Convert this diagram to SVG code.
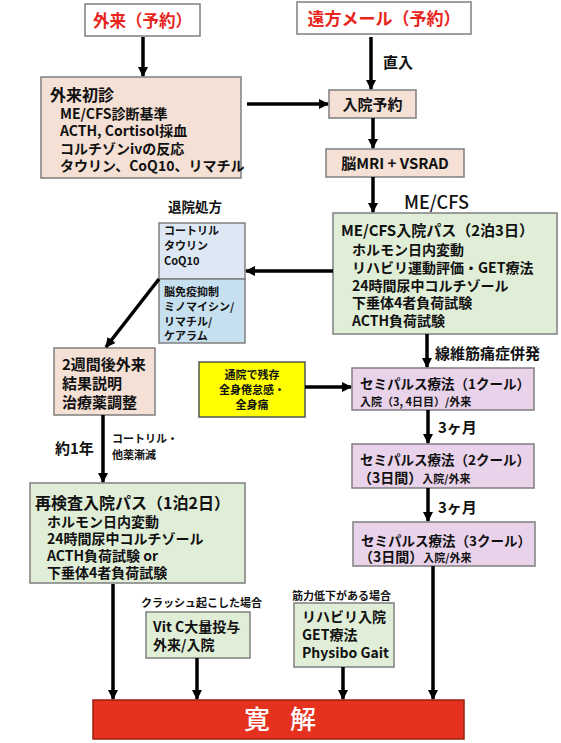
<svg xmlns="http://www.w3.org/2000/svg" width="561" height="743" viewBox="0 0 561 743">
<defs>
<marker id="ah" viewBox="0 0 10 10" refX="9" refY="5" markerWidth="10" markerHeight="10" markerUnits="userSpaceOnUse" orient="auto">
<path d="M0,0 L10,5 L0,10 z" fill="#000"/>
</marker>
</defs>
<style>
text{font-family:"Noto Sans CJK JP","Noto Sans",sans-serif;fill:#111;font-weight:bold}
.b{stroke:#7f7f7f;stroke-width:1.5}
.peach{fill:#f4e0d4}
.green{fill:#e0eed7}
.purple{fill:#e9d3eb}
.blue1{fill:#dde8f4}
.blue2{fill:#c6e0f0}
.white{fill:#fff}
.red{fill:#e8241c;font-weight:bold}
.c line{stroke:#000;stroke-width:3.5;fill:none;marker-end:url(#ah)}
.s11{font-size:11px}
.s135{font-size:13.5px}
.s14{font-size:14px}
.s15{font-size:15px}
.s16{font-size:16px}
.mid{text-anchor:middle}
</style>
<rect width="561" height="743" fill="#fff"/>

<g id="gairai-yoyaku">
<rect class="b white" x="85" y="4" width="115" height="32"/>
<text class="red mid" x="142.5" y="27" font-size="16.5">外来（予約）</text>
</g>

<g id="enpou-mail">
<rect class="b white" x="297" y="2" width="174" height="32"/>
<text class="red mid" x="384" y="25" font-size="17">遠方メール（予約）</text>
</g>

<g id="gairai-shoshin">
<rect class="b peach" x="41" y="77" width="200" height="101"/>
<text class="s14"><tspan class="s16" x="50" y="101">外来初診</tspan><tspan x="60" y="119">ME/CFS診断基準</tspan><tspan x="60" y="136">ACTH, Cortisol採血</tspan><tspan x="60" y="154">コルチゾンivの反応</tspan><tspan x="60" y="171">タウリン、CoQ10、リマチル</tspan></text>
</g>

<g id="nyuin-yoyaku">
<rect class="b peach" x="329" y="90" width="87" height="28"/>
<text class="s15 mid" x="372.5" y="110">入院予約</text>
</g>

<g id="mri">
<rect class="b peach" x="326" y="149" width="138" height="28"/>
<text class="s15 mid" x="395" y="169">脳MRI + VSRAD</text>
</g>

<g id="mecfs-path">
<rect class="b green" x="333" y="213" width="224" height="121"/>
<text class="s14"><tspan class="s15" x="341" y="236">ME/CFS入院パス（2泊3日）</tspan><tspan x="352" y="255">ホルモン日内変動</tspan><tspan x="352" y="273">リハビリ運動評価・GET療法</tspan><tspan x="352" y="291">24時間尿中コルチゾール</tspan><tspan x="352" y="308">下垂体4者負荷試験</tspan><tspan x="352" y="326">ACTH負荷試験</tspan></text>
</g>

<g id="taiin-shoho">
<text class="s135 mid" x="195" y="212">退院処方</text>
<rect class="b blue1" x="159" y="223" width="86" height="56"/>
<text class="s11"><tspan x="164" y="235">コートリル</tspan><tspan x="164" y="250">タウリン</tspan><tspan x="164" y="265">CoQ10</tspan></text>
<rect class="b blue2" x="159" y="279" width="86" height="64"/>
<text class="s11"><tspan x="164" y="296">脳免疫抑制</tspan><tspan x="164" y="311">ミノマイシン/</tspan><tspan x="164" y="326">リマチル/</tspan><tspan x="164" y="340">ケアラム</tspan></text>
</g>

<g id="nishukan">
<rect class="b peach" x="54" y="348" width="101" height="67"/>
<text class="s15"><tspan x="62" y="370">2週間後外来</tspan><tspan x="62" y="389">結果説明</tspan><tspan x="62" y="408">治療薬調整</tspan></text>
</g>

<g id="tsuin">
<rect x="199" y="362" width="106" height="55" fill="#ffff00" stroke="#555" stroke-width="1.5"/>
<text class="s11 mid"><tspan x="252" y="379">通院で残存</tspan><tspan x="252" y="394">全身倦怠感・</tspan><tspan x="252" y="409">全身痛</tspan></text>
</g>

<g id="semi1">
<rect class="b purple" x="352" y="368" width="182" height="42"/>
<text class="s135"><tspan x="360" y="389">セミパルス療法（1クール）</tspan><tspan class="s11" x="360" y="406">入院（3, 4日目）/外来</tspan></text>
</g>

<g id="semi2">
<rect class="b purple" x="352" y="444" width="182" height="44"/>
<text class="s135"><tspan x="360" y="465">セミパルス療法（2クール）</tspan><tspan class="s14" x="358" y="483">（3日間）</tspan><tspan class="s11">入院/外来</tspan></text>
</g>

<g id="semi3">
<rect class="b purple" x="353" y="522" width="182" height="44"/>
<text class="s135"><tspan x="361" y="546">セミパルス療法（3クール）</tspan><tspan class="s14" x="359" y="562">（3日間）</tspan><tspan class="s11">入院/外来</tspan></text>
</g>

<g id="saikensa">
<rect class="b green" x="30" y="483" width="215" height="100"/>
<text class="s14"><tspan class="s16" x="35" y="509">再検査入院パス（1泊2日）</tspan><tspan x="47" y="527">ホルモン日内変動</tspan><tspan x="47" y="544">24時間尿中コルチゾール</tspan><tspan x="47" y="561">ACTH負荷試験 or</tspan><tspan x="47" y="578">下垂体4者負荷試験</tspan></text>
</g>

<g id="vitc">
<text class="s11" x="141" y="607">クラッシュ起こした場合</text>
<rect class="b green" x="146" y="612" width="104" height="46"/>
<text class="s14"><tspan x="153" y="632">Vit C大量投与</tspan><tspan x="153" y="650">外来/入院</tspan></text>
</g>

<g id="rehab">
<text class="s11" x="292" y="600">筋力低下がある場合</text>
<rect class="b green" x="294" y="603" width="100" height="64"/>
<text class="s14"><tspan x="302" y="622">リハビリ入院</tspan><tspan x="302" y="640">GET療法</tspan><tspan x="302" y="658">Physibo Gait</tspan></text>
</g>

<g id="kankai">
<rect x="93" y="700" width="371" height="39" fill="#e5321f" stroke="#9a2010" stroke-width="1.5"/>
<text class="mid" x="280" y="729" font-size="26" style="fill:#fff;font-weight:500" word-spacing="14">寛 解</text>
</g>

<g id="connectors" class="c">
<line x1="143" y1="37" x2="143" y2="76"/>
<line x1="371" y1="37" x2="371" y2="89"/>
<line x1="247" y1="104" x2="328" y2="104"/>
<line x1="373" y1="118" x2="373" y2="148"/>
<line x1="373" y1="177" x2="373" y2="212"/>
<line x1="333" y1="271" x2="246" y2="271"/>
<line x1="159" y1="279" x2="106" y2="347"/>
<line x1="427" y1="334" x2="427" y2="367"/>
<line x1="305" y1="387" x2="351" y2="387"/>
<line x1="428" y1="410" x2="428" y2="443"/>
<line x1="428" y1="488" x2="428" y2="521"/>
<line x1="103" y1="415" x2="103" y2="482"/>
<line x1="113" y1="584" x2="113" y2="699"/>
<line x1="197" y1="658" x2="197" y2="699"/>
<line x1="343" y1="667" x2="343" y2="699"/>
<line x1="433" y1="566" x2="433" y2="699"/>
<text class="s15" x="383" y="68">直入</text>
<text x="404" y="209" font-size="18" style="font-weight:500">ME/CFS</text>
<text class="s15" x="435" y="359">線維筋痛症併発</text>
<text class="s15" x="438" y="433">3ヶ月</text>
<text class="s15" x="438" y="513">3ヶ月</text>
<text class="s15" x="55" y="454">約1年</text>
<text class="s11"><tspan x="112" y="443">コートリル・</tspan><tspan x="112" y="459">他薬漸減</tspan></text>
</g>
</svg>
